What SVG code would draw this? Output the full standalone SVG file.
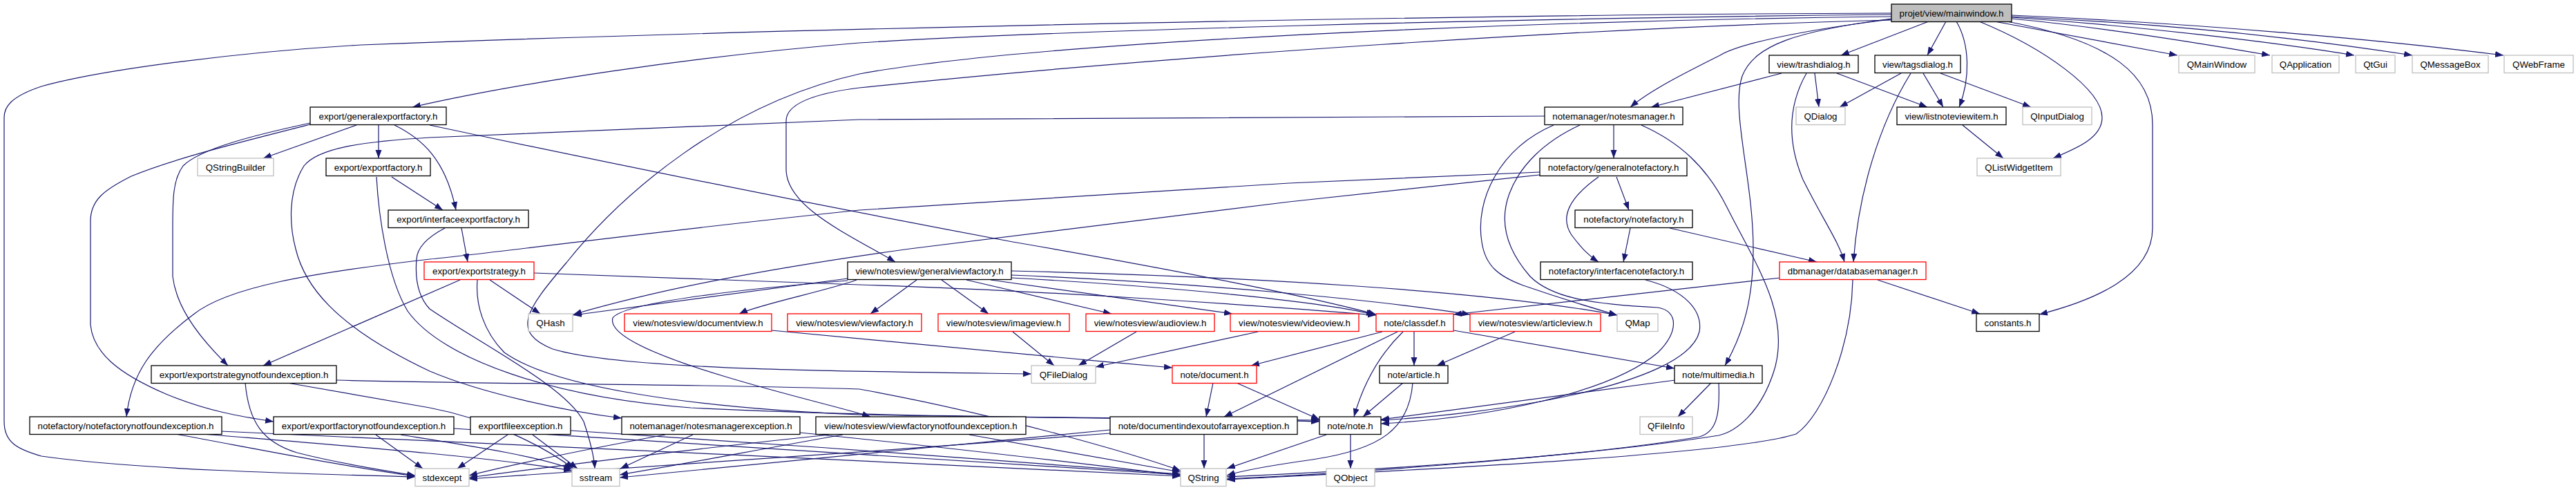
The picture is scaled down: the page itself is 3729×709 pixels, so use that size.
<svg xmlns="http://www.w3.org/2000/svg" width="3729" height="709" viewBox="0 0 3729 709">
<style>
.n rect{fill:#fff;stroke:#000;stroke-width:1.3}
.x rect{stroke:#bfbfbf}
.r rect{stroke:#ff0000}
.m rect{fill:#bfbfbf}
text{font-family:"Liberation Sans",Arial,sans-serif;font-size:13.3px;text-anchor:middle;fill:#000}
#edges path{fill:none;stroke:#191970;stroke-width:1.2;marker-end:url(#a)}
</style>
<defs>
<marker id="a" markerUnits="userSpaceOnUse" markerWidth="13" markerHeight="10" refX="12" refY="4.5" orient="auto"><path d="M0,0 L12,4.5 L0,9 z" fill="#191970"/></marker>
</defs>
<rect width="3729" height="709" fill="#fff"/>
<g id="edges">
<path d="M2792,31 L2665,80"/>
<path d="M2817,31 L2790,80"/>
<path d="M2832,31 C2852,65 2852,115 2836,155"/>
<path d="M2865,31 C2960,70 3043,130 3043,170 C3043,200 3005,215 2972,229"/>
<path d="M2905,31 C3060,60 3116,110 3116,180 L3116,330 C3116,400 3030,435 2952,455"/>
<path d="M2887,31 L3152,80"/>
<path d="M2912,27 C3050,40 3200,65 3286,80"/>
<path d="M2912,25 C3100,38 3300,62 3408,80"/>
<path d="M2912,24 C3150,35 3350,58 3492,80"/>
<path d="M2912,22 C3200,35 3450,58 3624,80"/>
<path d="M2738,28 C2620,42 2520,62 2490,80 C2440,105 2390,130 2360,155"/>
<path d="M2738,27 C2600,45 2540,65 2522,110 C2505,160 2538,260 2538,360 C2538,430 2525,480 2497,529"/>
<path d="M2738,19 C2300,20 1300,35 523,65 C350,75 150,100 60,125 C15,140 6,155 6,170 L6,610 C6,640 25,650 60,660 C200,680 450,686 601,690"/>
<path d="M2738,21 C2200,26 1500,45 1244,62 C1000,82 750,120 597,155"/>
<path d="M2738,29 C2300,40 1700,80 1244,127 C1180,135 1138,150 1138,175 L1138,245 C1138,300 1230,340 1296,379"/>
<path d="M2738,24 C2200,30 1500,60 1244,107 C1050,150 900,280 820,380 C760,450 740,480 800,505 C900,535 1200,537 1493,541"/>
<path d="M2579,106 L2390,155"/>
<path d="M2627,106 L2633,155"/>
<path d="M2659,106 L2790,155"/>
<path d="M2615,106 C2590,150 2585,200 2610,260 C2640,320 2662,350 2670,379"/>
<path d="M2752,106 L2663,155"/>
<path d="M2784,106 L2813,155"/>
<path d="M2809,106 L2940,155"/>
<path d="M2766,106 C2720,180 2690,280 2683,379"/>
<path d="M2841,181 L2900,229"/>
<path d="M2336,181 L2336,229"/>
<path d="M2249,181 C2170,215 2135,290 2145,350 C2150,385 2170,400 2205,413 C2260,432 2310,447 2341,456"/>
<path d="M2287,181 C2235,205 2200,240 2185,280 C2170,320 2180,360 2215,400 C2245,430 2300,440 2400,445 C2430,450 2430,480 2400,510 C2330,570 2150,605 1999,613"/>
<path d="M2376,181 C2430,205 2470,240 2500,300 C2540,380 2590,450 2570,530 C2550,600 2510,625 2488,630 C2300,660 2000,680 1776,690"/>
<path d="M2236,168 L1244,173 L622,199 C520,205 460,215 440,240 C415,280 420,330 428,360 C440,410 480,470 622,537 C700,570 820,595 900,605"/>
<path d="M2340,256 L2358,304"/>
<path d="M2314,256 C2280,280 2255,310 2275,340 C2290,360 2300,370 2314,379"/>
<path d="M2229,249 L1866,265 L1244,304 C900,340 700,368 622,375 C450,395 330,415 280,455 C220,500 190,540 183,603"/>
<path d="M2229,253 L1866,292 L1317,360 C1100,390 950,420 830,455"/>
<path d="M2360,330 L2350,379"/>
<path d="M2417,330 L2630,379"/>
<path d="M2382,405 C2440,420 2465,450 2460,480 C2440,560 2150,600 1999,608"/>
<path d="M2577,402 L2104,455"/>
<path d="M2718,405 L2866,454"/>
<path d="M2682,405 C2680,500 2640,600 2600,628 C2500,660 2000,682 1776,694"/>
<path d="M516,181 L381,229"/>
<path d="M548,181 L548,229"/>
<path d="M571,181 C610,200 645,230 660,304"/>
<path d="M622,181 C900,240 1200,300 1466,350 C1700,390 1900,430 1992,455"/>
<path d="M449,178 C370,195 290,215 265,240 C250,260 250,290 250,330 L250,400 C255,440 280,480 330,529"/>
<path d="M449,180 C350,205 250,230 190,255 C150,275 131,290 131,320 L131,470 C135,510 170,540 240,570 C300,595 350,603 396,610"/>
<path d="M567,256 L641,304"/>
<path d="M545,256 C548,310 560,400 590,450 C640,520 800,575 1000,590 C1300,605 1700,605 1910,608"/>
<path d="M668,330 L677,379"/>
<path d="M644,330 C625,340 604,355 603,375 C600,410 608,432 622,447 C700,500 820,560 845,610 C855,640 860,660 861,678"/>
<path d="M666,405 L381,529"/>
<path d="M709,405 L782,454"/>
<path d="M691,405 C688,440 700,480 730,510 C800,560 1000,590 1244,600 C1500,605 1800,606 1910,610"/>
<path d="M773,395 L1244,412 C1500,420 1800,440 1992,456"/>
<path d="M355,554 C360,610 380,640 430,655 C480,668 550,680 601,688"/>
<path d="M416,554 L622,590 C700,605 780,640 830,678"/>
<path d="M487,550 C700,556 1000,555 1244,563 C1450,600 1650,660 1709,681"/>
<path d="M254,628 C400,655 500,675 601,689"/>
<path d="M293,628 C500,645 700,660 828,681"/>
<path d="M320,624 C700,640 1300,670 1709,689"/>
<path d="M544,629 L612,678"/>
<path d="M580,629 C680,645 780,660 828,679"/>
<path d="M657,620 C1000,640 1400,670 1709,687"/>
<path d="M735,629 L662,678"/>
<path d="M771,629 L836,678"/>
<path d="M826,623 C1100,640 1500,670 1709,686"/>
<path d="M963,629 C850,650 750,670 679,688"/>
<path d="M1003,629 L898,678"/>
<path d="M1158,626 C1400,650 1600,675 1709,688"/>
<path d="M1200,629 C1000,650 800,675 679,691"/>
<path d="M1220,629 C1100,650 1000,670 897,687"/>
<path d="M1403,629 L1709,683"/>
<path d="M1743,629 L1743,678"/>
<path d="M1607,627 C1300,650 900,680 679,693"/>
<path d="M1607,622 C1300,650 1050,675 897,691"/>
<path d="M1955,629 L1955,678"/>
<path d="M1920,629 L1776,678"/>
<path d="M2047,480 L2047,529"/>
<path d="M2031,480 C2000,510 1975,550 1960,603"/>
<path d="M2104,478 L2424,533"/>
<path d="M2001,480 L1811,529"/>
<path d="M2023,480 L1772,603"/>
<path d="M2031,554 L1973,603"/>
<path d="M2045,554 C2040,620 2000,650 1900,665 C1850,672 1800,680 1776,688"/>
<path d="M2425,550 L1999,607"/>
<path d="M2477,554 L2429,603"/>
<path d="M2488,554 C2490,600 2485,625 2460,632 C2300,660 1950,685 1776,693"/>
<path d="M1756,554 L1746,603"/>
<path d="M1790,554 L1910,607"/>
<path d="M1117,478 C1300,495 1500,515 1697,532"/>
<path d="M1466,480 L1526,529"/>
<path d="M1645,480 L1561,529"/>
<path d="M1821,480 L1586,531"/>
<path d="M2193,480 L2080,529"/>
<path d="M1327,405 L1260,454"/>
<path d="M1363,405 L1431,454"/>
<path d="M1399,405 L1609,454"/>
<path d="M1434,405 L1784,454"/>
<path d="M1240,405 C1200,420 1100,440 1070,454"/>
<path d="M1227,403 L830,456"/>
<path d="M1227,406 C1050,420 900,440 887,460 C880,485 950,515 1050,545 C1150,575 1220,590 1260,603"/>
<path d="M1464,402 C1700,415 1900,435 1990,455"/>
<path d="M1464,398 C1750,410 2000,435 2128,455"/>
<path d="M1464,392 C1800,400 2150,420 2341,456"/>
</g>
<g id="mainwindow" class="n m"><rect x="2738" y="6" width="174" height="25.5"/><text x="2825" y="23.5">projet/view/mainwindow.h</text></g>
<g id="trashdialog" class="n"><rect x="2561" y="80" width="129" height="25.5"/><text x="2625.5" y="97.5">view/trashdialog.h</text></g>
<g id="tagsdialog" class="n"><rect x="2714" y="80" width="124" height="25.5"/><text x="2776" y="97.5">view/tagsdialog.h</text></g>
<g id="qmainwindow" class="n x"><rect x="3154" y="80" width="110" height="25.5"/><text x="3209" y="97.5">QMainWindow</text></g>
<g id="qapplication" class="n x"><rect x="3289" y="80" width="97" height="25.5"/><text x="3337.5" y="97.5">QApplication</text></g>
<g id="qtgui" class="n x"><rect x="3410" y="80" width="57" height="25.5"/><text x="3438.5" y="97.5">QtGui</text></g>
<g id="qmessagebox" class="n x"><rect x="3492" y="80" width="110" height="25.5"/><text x="3547" y="97.5">QMessageBox</text></g>
<g id="qwebframe" class="n x"><rect x="3625" y="80" width="100" height="25.5"/><text x="3675" y="97.5">QWebFrame</text></g>
<g id="generalexportfactory" class="n"><rect x="449" y="155" width="197" height="25.5"/><text x="547.5" y="172.5">export/generalexportfactory.h</text></g>
<g id="notesmanager" class="n"><rect x="2236" y="155" width="200" height="25.5"/><text x="2336" y="172.5">notemanager/notesmanager.h</text></g>
<g id="qdialog" class="n x"><rect x="2600" y="155" width="71" height="25.5"/><text x="2635.5" y="172.5">QDialog</text></g>
<g id="listnoteviewitem" class="n"><rect x="2746" y="155" width="158" height="25.5"/><text x="2825" y="172.5">view/listnoteviewitem.h</text></g>
<g id="qinputdialog" class="n x"><rect x="2928" y="155" width="100" height="25.5"/><text x="2978" y="172.5">QInputDialog</text></g>
<g id="qstringbuilder" class="n x"><rect x="286" y="229" width="110" height="25.5"/><text x="341" y="246.5">QStringBuilder</text></g>
<g id="exportfactory" class="n"><rect x="472" y="229" width="151" height="25.5"/><text x="547.5" y="246.5">export/exportfactory.h</text></g>
<g id="generalnotefactory" class="n"><rect x="2229" y="229" width="213" height="25.5"/><text x="2335.5" y="246.5">notefactory/generalnotefactory.h</text></g>
<g id="qlistwidgetitem" class="n x"><rect x="2862" y="229" width="121" height="25.5"/><text x="2922.5" y="246.5">QListWidgetItem</text></g>
<g id="interfaceexportfactory" class="n"><rect x="562" y="304" width="203" height="25.5"/><text x="663.5" y="321.5">export/interfaceexportfactory.h</text></g>
<g id="notefactory" class="n"><rect x="2280" y="304" width="170" height="25.5"/><text x="2365" y="321.5">notefactory/notefactory.h</text></g>
<g id="exportstrategy" class="n r"><rect x="614" y="379" width="159" height="25.5"/><text x="693.5" y="396.5">export/exportstrategy.h</text></g>
<g id="generalviewfactory" class="n"><rect x="1227" y="379" width="237" height="25.5"/><text x="1345.5" y="396.5">view/notesview/generalviewfactory.h</text></g>
<g id="interfacenotefactory" class="n"><rect x="2230" y="379" width="220" height="25.5"/><text x="2340" y="396.5">notefactory/interfacenotefactory.h</text></g>
<g id="databasemanager" class="n r"><rect x="2576" y="379" width="212" height="25.5"/><text x="2682" y="396.5">dbmanager/databasemanager.h</text></g>
<g id="qhash" class="n x"><rect x="765" y="454" width="64" height="25.5"/><text x="797" y="471.5">QHash</text></g>
<g id="documentview" class="n r"><rect x="904" y="454" width="213" height="25.5"/><text x="1010.5" y="471.5">view/notesview/documentview.h</text></g>
<g id="viewfactory" class="n r"><rect x="1140" y="454" width="194" height="25.5"/><text x="1237" y="471.5">view/notesview/viewfactory.h</text></g>
<g id="imageview" class="n r"><rect x="1358" y="454" width="190" height="25.5"/><text x="1453" y="471.5">view/notesview/imageview.h</text></g>
<g id="audioview" class="n r"><rect x="1572" y="454" width="186" height="25.5"/><text x="1665" y="471.5">view/notesview/audioview.h</text></g>
<g id="videoview" class="n r"><rect x="1781" y="454" width="186" height="25.5"/><text x="1874" y="471.5">view/notesview/videoview.h</text></g>
<g id="classdef" class="n r"><rect x="1992" y="454" width="112" height="25.5"/><text x="2048" y="471.5">note/classdef.h</text></g>
<g id="articleview" class="n r"><rect x="2128" y="454" width="189" height="25.5"/><text x="2222.5" y="471.5">view/notesview/articleview.h</text></g>
<g id="qmap" class="n x"><rect x="2341" y="454" width="59" height="25.5"/><text x="2370.5" y="471.5">QMap</text></g>
<g id="constants" class="n"><rect x="2861" y="454" width="91" height="25.5"/><text x="2906.5" y="471.5">constants.h</text></g>
<g id="exportstrategynotfoundexception" class="n"><rect x="219" y="529" width="268" height="25.5"/><text x="353" y="546.5">export/exportstrategynotfoundexception.h</text></g>
<g id="qfiledialog" class="n x"><rect x="1493" y="529" width="93" height="25.5"/><text x="1539.5" y="546.5">QFileDialog</text></g>
<g id="document" class="n r"><rect x="1697" y="529" width="122" height="25.5"/><text x="1758" y="546.5">note/document.h</text></g>
<g id="article" class="n"><rect x="1997" y="529" width="99" height="25.5"/><text x="2046.5" y="546.5">note/article.h</text></g>
<g id="multimedia" class="n"><rect x="2424" y="529" width="127" height="25.5"/><text x="2487.5" y="546.5">note/multimedia.h</text></g>
<g id="notefactorynotfoundexception" class="n"><rect x="43" y="603" width="278" height="25.5"/><text x="182" y="620.5">notefactory/notefactorynotfoundexception.h</text></g>
<g id="exportfactorynotfoundexception" class="n"><rect x="396" y="603" width="261" height="25.5"/><text x="526.5" y="620.5">export/exportfactorynotfoundexception.h</text></g>
<g id="exportfileexception" class="n"><rect x="681" y="603" width="145" height="25.5"/><text x="753.5" y="620.5">exportfileexception.h</text></g>
<g id="notesmanagerexception" class="n"><rect x="900" y="603" width="258" height="25.5"/><text x="1029" y="620.5">notemanager/notesmanagerexception.h</text></g>
<g id="viewfactorynotfoundexception" class="n"><rect x="1181" y="603" width="304" height="25.5"/><text x="1333" y="620.5">view/notesview/viewfactorynotfoundexception.h</text></g>
<g id="documentindexoutofarrayexception" class="n"><rect x="1607" y="603" width="271" height="25.5"/><text x="1742.5" y="620.5">note/documentindexoutofarrayexception.h</text></g>
<g id="note" class="n"><rect x="1910" y="603" width="89" height="25.5"/><text x="1954.5" y="620.5">note/note.h</text></g>
<g id="qfileinfo" class="n x"><rect x="2374" y="603" width="76" height="25.5"/><text x="2412" y="620.5">QFileInfo</text></g>
<g id="stdexcept" class="n x"><rect x="601" y="678" width="78" height="25.5"/><text x="640" y="695.5">stdexcept</text></g>
<g id="sstream" class="n x"><rect x="828" y="678" width="69" height="25.5"/><text x="862.5" y="695.5">sstream</text></g>
<g id="qstring" class="n x"><rect x="1709" y="678" width="66" height="25.5"/><text x="1742" y="695.5">QString</text></g>
<g id="qobject" class="n x"><rect x="1920" y="678" width="70" height="25.5"/><text x="1955" y="695.5">QObject</text></g>
</svg>
